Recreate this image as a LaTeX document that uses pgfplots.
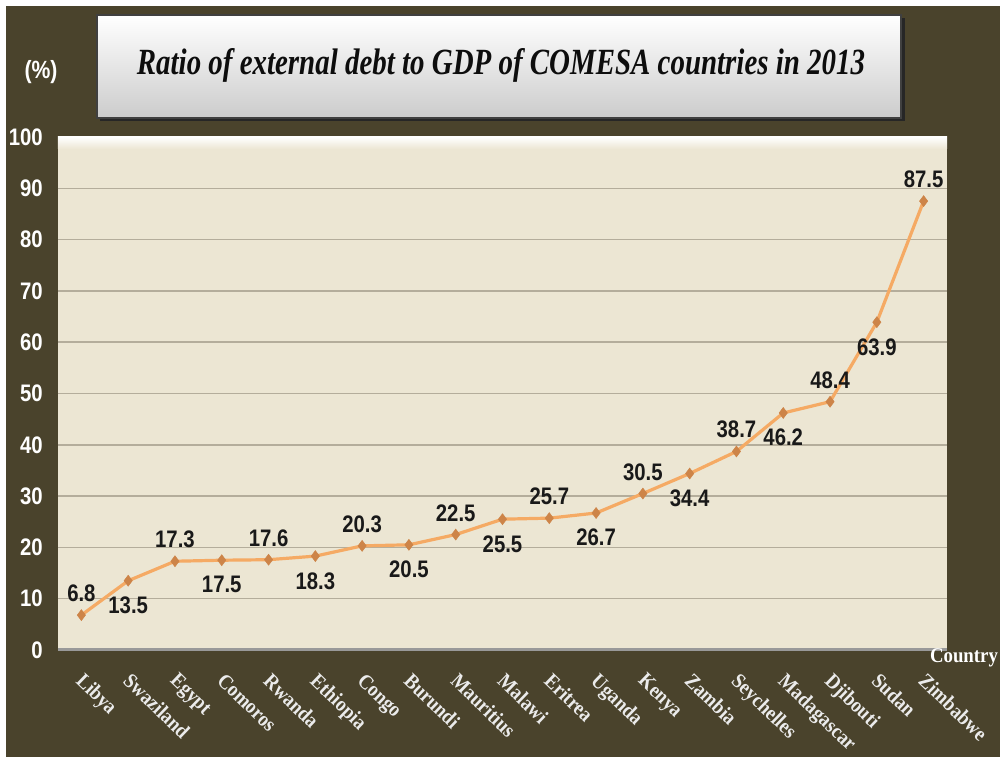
\documentclass[border=0pt]{standalone}
\usepackage{pgfplots}
\pgfplotsset{compat=1.18}
\usepackage{fontspec}
\setmainfont{Liberation Sans}
\newfontfamily\narrowsans[FakeStretch=0.85]{Liberation Sans}
\newfontfamily\narrowserif[FakeStretch=0.9]{Liberation Serif}
\newfontfamily\titlefont{Liberation Serif}
\definecolor{bgdark}{RGB}{74,67,44}
\definecolor{cream}{RGB}{236,230,211}
\definecolor{gridc}{RGB}{180,173,155}
\definecolor{linec}{RGB}{245,170,100}
\definecolor{markc}{RGB}{205,132,72}
\definecolor{lblc}{RGB}{25,25,25}

\pgfplotstableread{
x y
0 6.8
1 13.5
2 17.3
3 17.5
4 17.6
5 18.3
6 20.3
7 20.5
8 22.5
9 25.5
10 25.7
11 26.7
12 30.5
13 34.4
14 38.7
15 46.2
16 48.4
17 63.9
18 87.5
}\debt

\pgfplotstableread{
x y
0 6.8
2 17.3
4 17.6
6 20.3
8 22.5
10 25.7
12 30.5
14 38.7
16 48.4
18 87.5
}\above

\pgfplotstableread{
x y
1 13.5
3 17.5
5 18.3
7 20.5
9 25.5
11 26.7
13 34.4
15 46.2
17 63.9
}\below

\begin{document}
\begin{tikzpicture}[x=1bp,y=1bp]
\useasboundingbox (-58,-113) rectangle (948,650);
\fill[white] (-58,-113) rectangle (948,650);
\fill[bgdark] (-52,-107) rectangle (942,644);
% title box
\fill[black!85] (42,529) rectangle (847,632);
\shade[top color=white, bottom color=black!20, draw=black!75, line width=1.5bp] (39,532) rectangle (843,635);
\node[anchor=base, inner sep=0, text=black!95] at (443,575) {\resizebox{728bp}{26bp}{\titlefont\bfseries\itshape Ratio of external debt to GDP of COMESA countries in 2013}};
\node[text=white, inner sep=0] at (-17,578) {\narrowsans\bfseries\fontsize{25}{25}\selectfont (\%)};
\begin{axis}[
  at={(0,0)}, anchor=south west,
  scale only axis, width=889bp, height=513bp,
  xmin=-0.5, xmax=18.5, ymin=0, ymax=100,
  xtick={0,...,18},
  xticklabels={Libya,Swaziland,Egypt,Comoros,Rwanda,Ethiopia,Congo,Burundi,Mauritius,Malawi,Eritrea,Uganda,Kenya,Zambia,Seychelles,Madagascar,Djibouti,Sudan,Zimbabwe},
  ytick={0,10,...,100},
  axis background/.style={fill=cream},
  axis line style={draw=none},
  ymajorgrids, grid style={gridc, line width=1.5bp},
  tick style={draw=none},
  /pgf/number format/assume math mode=true,
  yticklabel style={font=\narrowsans\bfseries\fontsize{24}{24}\selectfont, text=white, anchor=east, inner sep=0, xshift=-15bp},
  xticklabel style={font=\narrowserif\bfseries\fontsize{21}{21}\selectfont, text=white!92!black, rotate=-44, anchor=north west, inner sep=0, xshift=18bp, yshift=-13bp},
  clip=false,
]
\fill[top color=white, bottom color=cream, draw=none] (rel axis cs:0,1) rectangle ([yshift=-12bp]rel axis cs:1,1);
\draw[black!40, line width=3bp] (rel axis cs:0,0) -- (rel axis cs:1,0);
\addplot[linec, line width=3.2bp, mark=diamond*, mark size=5.5bp, mark options={fill=markc, draw=markc, line width=0.5bp}] table[x=x,y=y] {\debt};
\addplot[draw=none, mark=none, nodes near coords,
  nodes near coords style={font=\narrowsans\bfseries\fontsize{24}{24}\selectfont, text=lblc, anchor=south, inner sep=0, yshift=13bp, /pgf/number format/.cd, fixed, precision=1, fixed zerofill}]
  table[x=x,y=y] {\above};
\addplot[draw=none, mark=none, nodes near coords,
  nodes near coords style={font=\narrowsans\bfseries\fontsize{24}{24}\selectfont, text=lblc, anchor=north, inner sep=0, yshift=-16bp, /pgf/number format/.cd, fixed, precision=1, fixed zerofill}]
  table[x=x,y=y] {\below};
\end{axis}
\node[anchor=base, text=white, inner sep=0] at (906,-13) {\narrowserif\bfseries\fontsize{21}{21}\selectfont Country};
\end{tikzpicture}
\end{document}
